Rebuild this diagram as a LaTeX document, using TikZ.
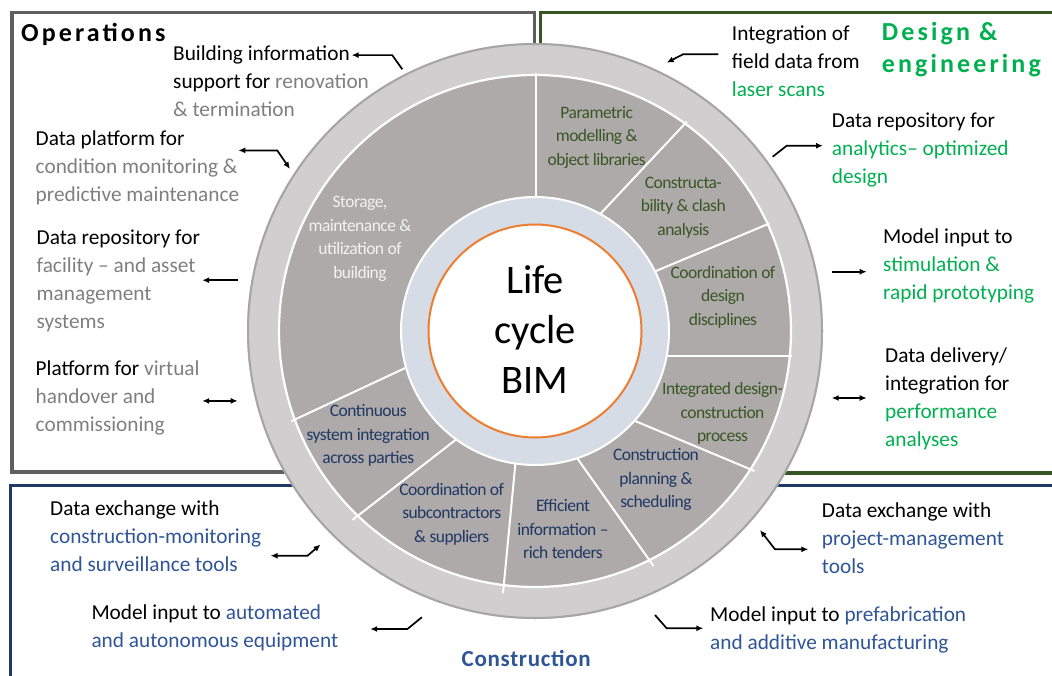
\documentclass[tikz,border=0pt]{standalone}
\usepackage{fontspec}
\setmainfont{Carlito}
\usetikzlibrary{arrows.meta}
\definecolor{opgray}{HTML}{7F7F7F}
\definecolor{dgreen}{HTML}{00B050}
\definecolor{dblue}{HTML}{2F5597}
\definecolor{wnavy}{HTML}{1F3864}
\definecolor{wgreen}{HTML}{385723}
\definecolor{wwhite}{HTML}{F2F2F2}
\definecolor{wedgegray}{HTML}{AEAAAA}
\definecolor{ringgray}{HTML}{D0CECE}
\definecolor{edgegray}{HTML}{A5A5A5}
\definecolor{lightring}{HTML}{D6DCE5}
\definecolor{corange}{HTML}{ED7D31}
\definecolor{opbox}{HTML}{5F5F5F}
\definecolor{debox}{HTML}{375623}
\definecolor{cobox}{HTML}{1F3864}
\newcommand\llines[1]{\vtop{\halign{##\hfil\cr#1\crcr}}}
\newcommand\clines[1]{\vtop{\halign{\hfil##\hfil\cr#1\crcr}}}
\newcommand\mainsize{\fontsize{21.3}{28}\selectfont}
\newcommand\wedgesize{\fontsize{17.5}{23.5}\selectfont\addfontfeature{LetterSpace=-3}}
\newcommand\headsize{\fontsize{26}{32}\selectfont\bfseries\addfontfeature{LetterSpace=12}}
\newcommand\consize{\fontsize{23}{30}\selectfont\bfseries\addfontfeature{LetterSpace=3}}
\newcommand\bigsize{\fontsize{40.5}{50}\selectfont}
\tikzset{
  lt/.style={anchor=base west, inner sep=0pt, font=\mainsize},
  wt/.style={anchor=base, inner sep=0pt, font=\wedgesize},
  hd/.style={anchor=base west, inner sep=0pt, font=\headsize},
  arr/.style={line width=1.7pt, -{Latex[length=7pt,width=6pt]}},
  darr/.style={line width=1.7pt, {Latex[length=7pt,width=6pt]}-{Latex[length=7pt,width=6pt]}},
  divline/.style={white, line width=2pt},
  boxline/.style={line width=3.5pt}
}
\begin{document}
\begin{tikzpicture}[x=1pt,y=-1pt]
\useasboundingbox (0,0) rectangle (1052,675);
% boxes
\draw[boxline, opbox] (12,12.5) rectangle (534.5,472);
\draw[boxline, debox] (540.5,12.5) rectangle (1062,473);
\draw[boxline, cobox] (10.5,485.5) rectangle (1062,690);
% circle
\coordinate (C) at (535,331);
\fill[ringgray] (C) circle [radius=288pt];
\draw[edgegray, line width=2pt] (C) circle [radius=287pt];
\fill[wedgegray] (C) circle [radius=256pt];
\coordinate (d1o) at (535.7,73);   \coordinate (d1i) at (535.7,200);
\coordinate (d2o) at (687,121.5);  \coordinate (d2i) at (597.6,216.8);
\coordinate (d3o) at (769.5,223.4);\coordinate (d3i) at (652.1,272.6);
\coordinate (d4o) at (792,355.5);  \coordinate (d4i) at (665,355.5);
\coordinate (d5o) at (754.5,471);  \coordinate (d5i) at (633.7,420.4);
\coordinate (d6o) at (653.4,565.8);\coordinate (d6i) at (577.1,458.1);
\coordinate (d7o) at (503,593.3);  \coordinate (d7i) at (515.5,462.4);
\coordinate (d8o) at (352.6,519.8);\coordinate (d8i) at (456.6,439.1);
\coordinate (d9o) at (291.3,421.2);\coordinate (d9i) at (407.8,366.8);
\foreach \k in {1,...,9} { \draw[divline] (d\k o) -- (d\k i); }
\draw[white, line width=2.2pt] (C) circle [radius=256pt];
\filldraw[fill=lightring, draw=white, line width=2pt] (C) circle [radius=134pt];
\filldraw[fill=white, draw=corange, line width=2pt] (C) circle [radius=106.5pt];
\node[anchor=base, inner sep=0pt, font=\bigsize] (lcb) at (535,293.3) {\clines{Life\cr cycle\cr BIM}};
% wedge texts
\node[wt, text=wwhite] (w1) at (360,207.5) {\clines{Storage,\cr maintenance \&\cr utilization of\cr building}};
\node[wt, text=wgreen] (w2) at (596.7,118) {\clines{Parametric\cr modelling \&\cr object libraries}};
\node[wt, text=wgreen] (w3) at (683.3,188) {\clines{Constructa-\cr bility \& clash\cr analysis}};
\node[wt, text=wgreen] (w4) at (723,278) {\clines{Coordination of\cr design\cr disciplines}};
\node[wt, text=wgreen] (w5) at (722.5,394.5) {\clines{Integrated design-\cr construction\cr process}};
\node[wt, text=wnavy] (w6) at (656,460.5) {\clines{Construction\cr planning \&\cr scheduling}};
\node[wt, text=wnavy] (w7) at (563,511.5) {\clines{Efficient\cr information –\cr rich tenders}};
\node[wt, text=wnavy] (w8) at (451.7,495) {\clines{Coordination of\cr subcontractors\cr \& suppliers}};
\node[wt, text=wnavy] (w9) at (368.3,416.5) {\clines{Continuous\cr system integration\cr across parties}};
% headers
\node[hd, text=black] (hop) at (21,41.2) {Operations};
\node[hd, text=dgreen] (hde) at (881.7,40.5) {\llines{Design \&\cr engineering}};
\node[hd, font=\consize, text=dblue] (hco) at (461.5,666.5) {Construction};
% outer texts
\node[lt] (t1) at (173,60.6) {\llines{Building information\cr support for \textcolor{opgray}{renovation}\cr \textcolor{opgray}{\& termination}}};
\node[lt] (t2) at (35.5,145.8) {\llines{Data platform for\cr \textcolor{opgray}{condition monitoring \&}\cr \textcolor{opgray}{predictive maintenance}}};
\node[lt] (t3) at (36.5,244.1) {\llines{Data repository for\cr \textcolor{opgray}{facility – and asset}\cr \textcolor{opgray}{management}\cr \textcolor{opgray}{systems}}};
\node[lt] (t4) at (35.5,375.9) {\llines{Platform for \textcolor{opgray}{virtual}\cr \textcolor{opgray}{handover and}\cr \textcolor{opgray}{commissioning}}};
\node[lt] (t5) at (731.7,40.5) {\llines{Integration of\cr field data from\cr \textcolor{dgreen}{laser scans}}};
\node[lt] (t6) at (831.7,127.5) {\llines{Data repository for\cr \textcolor{dgreen}{analytics– optimized}\cr \textcolor{dgreen}{design}}};
\node[lt] (t7) at (883,243.5) {\llines{Model input to\cr \textcolor{dgreen}{stimulation \&}\cr \textcolor{dgreen}{rapid prototyping}}};
\node[lt] (t8) at (885,362.2) {\llines{Data delivery/\cr integration for\cr \textcolor{dgreen}{performance}\cr \textcolor{dgreen}{analyses}}};
\node[lt] (t9) at (50,515.5) {\llines{Data exchange with\cr \textcolor{dblue}{construction-monitoring}\cr \textcolor{dblue}{and surveillance tools}}};
\node[lt] (t10) at (91.3,619.3) {\llines{Model input to \textcolor{dblue}{automated}\cr \textcolor{dblue}{and autonomous equipment}}};
\node[lt] (t11) at (821.7,517.2) {\llines{Data exchange with\cr \textcolor{dblue}{project-management}\cr \textcolor{dblue}{tools}}};
\node[lt] (t12) at (710,621.5) {\llines{Model input to \textcolor{dblue}{prefabrication}\cr \textcolor{dblue}{and additive manufacturing}}};
% arrows
\coordinate (a1s) at (402.3,69.3); \coordinate (a1m) at (392.2,55.1); \coordinate (a1e) at (351.6,55.1);
\draw[arr] (a1s) -- (a1m) -- (a1e);
\coordinate (a2s) at (238.3,150.4); \coordinate (a2m) at (277.2,150.4); \coordinate (a2e) at (290,169);
\draw[darr] (a2s) -- (a2m) -- (a2e);
\coordinate (a3s) at (237.7,280.2); \coordinate (a3e) at (202.2,280.2);
\draw[arr] (a3s) -- (a3e);
\coordinate (a4s) at (202.2,400.9); \coordinate (a4e) at (237.7,400.9);
\draw[darr] (a4s) -- (a4e);
\coordinate (a5s) at (718.3,54.3); \coordinate (a5m) at (683,54.3); \coordinate (a5e) at (666.7,62.7);
\draw[arr] (a5s) -- (a5m) -- (a5e);
\coordinate (a6s) at (772.7,156.7); \coordinate (a6m) at (786.7,145.7); \coordinate (a6e) at (823,145.7);
\draw[arr] (a6s) -- (a6m) -- (a6e);
\coordinate (a7s) at (831.7,271.7); \coordinate (a7e) at (866.7,271.7);
\draw[arr] (a7s) -- (a7e);
\coordinate (a8s) at (831.7,398); \coordinate (a8e) at (866.7,398);
\draw[darr] (a8s) -- (a8e);
\coordinate (a9s) at (270.5,555.7); \coordinate (a9m) at (307.6,555.7); \coordinate (a9e) at (320.5,544.5);
\draw[darr] (a9s) -- (a9m) -- (a9e);
\coordinate (a10s) at (421.9,617.2); \coordinate (a10m) at (407.4,629); \coordinate (a10e) at (370.2,629);
\draw[arr] (a10s) -- (a10m) -- (a10e);
\coordinate (a11s) at (760,530); \coordinate (a11m) at (775,549.3); \coordinate (a11e) at (808.3,549.3);
\draw[darr] (a11s) -- (a11m) -- (a11e);
\coordinate (a12s) at (655,615); \coordinate (a12m) at (666.7,628.3); \coordinate (a12e) at (703.3,628.3);
\draw[arr] (a12s) -- (a12m) -- (a12e);
\end{tikzpicture}
\end{document}
